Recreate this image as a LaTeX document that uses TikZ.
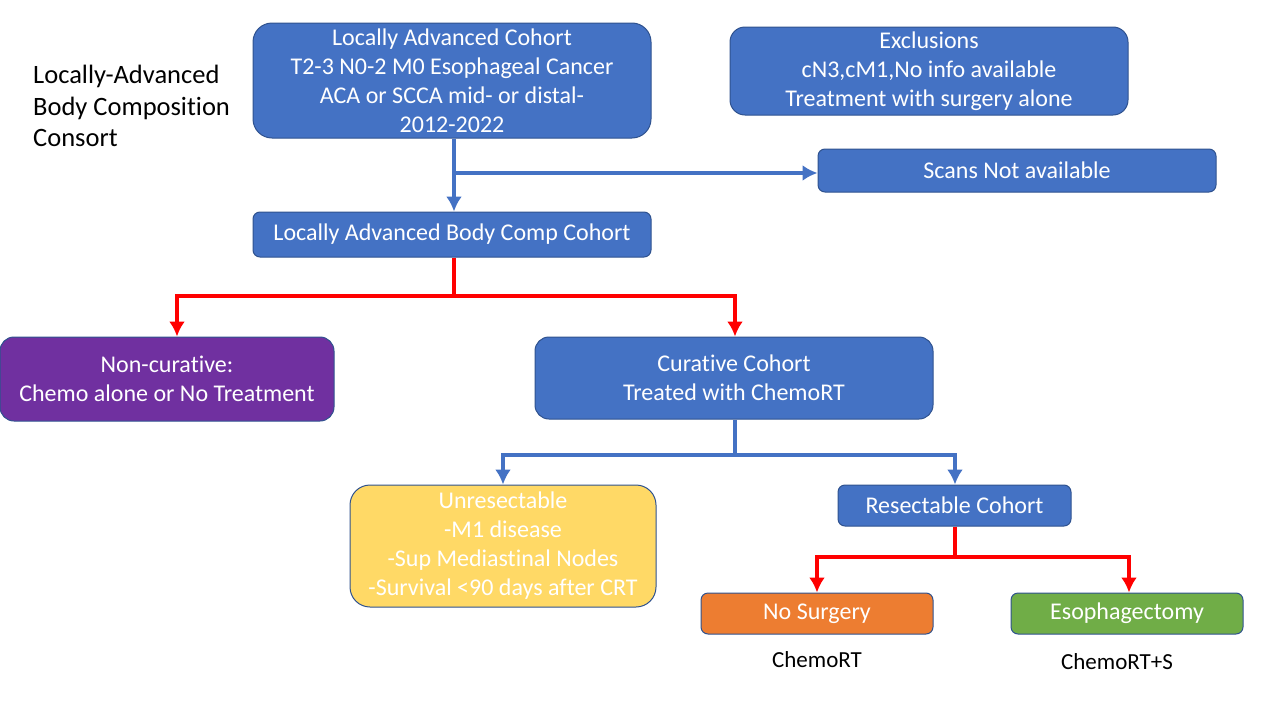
\documentclass[tikz,border=0pt]{standalone}
\usepackage{fontspec}
\setmainfont[RawFeature={-liga;-calt;-dlig;-clig}]{Carlito}
\usepackage{xcolor}
\usepackage{tikz}
\usetikzlibrary{positioning,arrows.meta}

\definecolor{boxblue}{HTML}{4472C4}
\definecolor{edgeblue}{HTML}{2F528F}
\definecolor{boxpurple}{HTML}{7030A0}
\definecolor{boxyellow}{HTML}{FFD966}
\definecolor{boxorange}{HTML}{ED7D31}
\definecolor{boxgreen}{HTML}{70AD47}

\tikzset{
  cbox/.style={draw=edgeblue,line width=1pt,fill=boxblue,text=white,align=center,
    inner sep=0pt,font=\fontsize{24}{29}\selectfont},
  bluearrow/.style={draw=boxblue,line width=4pt,-{Latex[length=15pt,width=16pt]}},
  redarrow/.style={draw=red,line width=4pt,-{Latex[length=15pt,width=16pt]}},
  blueline/.style={draw=boxblue,line width=4pt},
  redline/.style={draw=red,line width=4pt}
}

\begin{document}
\begin{tikzpicture}[x=1pt,y=-1pt]
                \useasboundingbox (0,0) rectangle (1280,720);

                % boxes
                \node[cbox,minimum width=398pt,minimum height=115pt,rounded corners=19pt] (top) at (452,80.5)
                    {Locally Advanced Cohort\\T2-3 N0-2 M0 Esophageal Cancer\\ACA or SCCA mid- or distal-\\2012-2022};
                \node[cbox,minimum width=398pt,minimum height=88pt,rounded corners=15pt] (excl) at (929,71)
                    {Exclusions\\cN3,cM1,No info available\\Treatment with surgery alone};
                \node[cbox,minimum width=398pt,minimum height=43pt,rounded corners=7pt] (scans) at (1017,170.5) {Scans Not available};
                \node[cbox,minimum width=398pt,minimum height=45pt,rounded corners=7pt] (labc) at (452,234.5) {Locally Advanced Body Comp Cohort};
                \node[cbox,fill=boxpurple,minimum width=334pt,minimum height=84pt,rounded corners=14pt] (noncur) at (167,379)
                    {Non-curative:\\Chemo alone or No Treatment};
                \node[cbox,minimum width=398pt,minimum height=82pt,rounded corners=14pt] (cur) at (734,378)
                    {Curative Cohort\\Treated with ChemoRT};
                \node[cbox,fill=boxyellow,minimum width=306pt,minimum height=122pt,rounded corners=20pt] (unres) at (503,546)
                    {Unresectable\\-M1 disease\\-Sup Mediastinal Nodes\\-Survival <90 days after CRT};
                \node[cbox,minimum width=233pt,minimum height=41pt,rounded corners=7pt] (resect) at (954.5,505.5) {Resectable Cohort};
                \node[cbox,fill=boxorange,minimum width=232pt,minimum height=41pt,rounded corners=7pt] (nosurg) at (817,613.5) {No Surgery};
                \node[cbox,fill=boxgreen,minimum width=232pt,minimum height=41pt,rounded corners=7pt] (esoph) at (1127,613.5) {Esophagectomy};

                % plain labels
                \node[align=left,anchor=north west,inner sep=0pt,font=\fontsize{26.5}{31.5}\selectfont] (title) at (33,65)
                    {Locally-Advanced\\Body Composition\\Consort};
                \node[font=\fontsize{23}{27}\selectfont] (lblcrt) at (817,660) {ChemoRT};
                \node[font=\fontsize{23}{27}\selectfont] (lblcrts) at (1117,662) {ChemoRT+S};

                % junctions
                \coordinate (j1) at (454,296);
                \coordinate (j2) at (735,455);
                \coordinate (j3) at (955,557);

                % connectors
                \draw[bluearrow] ([xshift=2pt]top.south) -- ([xshift=2pt]labc.north);
                \draw[bluearrow] ([xshift=2pt]top.south |- 0,173) -- (scans.west |- 0,173);

                \draw[redline] ([xshift=2pt]labc.south) -- (j1);
                \draw[redarrow] (j1) -| ([xshift=10pt]noncur.north);
                \draw[redarrow] (j1) -| ([xshift=1pt]cur.north);

                \draw[blueline] ([xshift=1pt]cur.south) -- (j2);
                \draw[bluearrow] (j2) -| (unres.north);
                \draw[bluearrow] (j2) -| ([xshift=0.5pt]resect.north);

                \draw[redline] ([xshift=0.5pt]resect.south) -- (j3);
                \draw[redarrow] (j3) -| (nosurg.north);
                \draw[redarrow] (j3) -| ([xshift=2pt]esoph.north);
            \end{tikzpicture}
\end{document}
